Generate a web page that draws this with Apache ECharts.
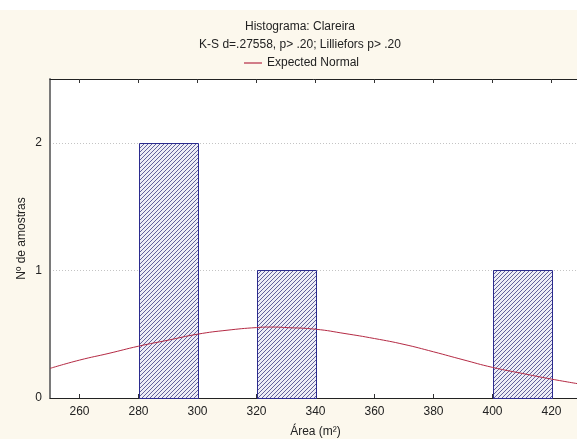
<!DOCTYPE html>
<html>
<head>
<meta charset="utf-8">
<script src="https://cdn.jsdelivr.net/npm/echarts@6/dist/echarts.min.js"></script>
<style>
html,body{margin:0;padding:0;background:#fcf8ed;}
#c{width:577px;height:439px;}
</style>
</head>
<body>
<div id="c"></div>
<script>
// Histogram bins (Área, m²) and counts
const binLeft = [280, 320, 400];
const binRight = [300, 340, 420];
const counts = [2, 1, 1];
// Expected normal curve
const normalX = [250, 260, 270, 280, 290, 300, 310, 320, 325, 330, 340, 350, 360, 370, 380, 390, 400, 410, 420, 430];
const normalY = [0.232, 0.297, 0.35, 0.406, 0.453, 0.50, 0.531, 0.552, 0.556, 0.552, 0.539, 0.505, 0.466, 0.42, 0.362, 0.30, 0.24, 0.193, 0.148, 0.108];
const xTicks = [260, 280, 300, 320, 340, 360, 380, 400, 420];
const yTicks = [0, 1, 2];

const tile = document.createElement('canvas');
tile.width = 4; tile.height = 4;
const g = tile.getContext('2d');
g.fillStyle = '#ededf6';
g.fillRect(0, 0, 4, 4);
g.strokeStyle = '#3e3e84';
g.lineWidth = 0.8;
g.beginPath();
g.moveTo(-1, 5); g.lineTo(5, -1);
g.moveTo(-1, 1); g.lineTo(1, -1);
g.moveTo(3, 5); g.lineTo(5, 3);
g.stroke();
const hatch = {image: tile, repeat: 'repeat'};

const chart = echarts.init(document.getElementById('c'), null, {renderer: 'canvas'});
const font = 'Liberation Sans, Arial, sans-serif';
chart.setOption({
  backgroundColor: '#fcf8ed',
  animation: false,
  textStyle: {fontFamily: font},
  graphic: [{type: 'rect', shape: {x: 0, y: 0, width: 577, height: 10}, style: {fill: '#ffffff'}, z: -10}],
  title: [
    {text: 'Histograma: Clareira', left: 300, top: 21, textAlign: 'center', padding: 0,
     textStyle: {fontSize: 12, fontWeight: 'normal', color: '#222', fontFamily: font}},
    {text: 'K-S d=.27558, p> .20; Lilliefors p> .20', left: 300, top: 39, textAlign: 'center', padding: 0,
     textStyle: {fontSize: 12, fontWeight: 'normal', color: '#222', fontFamily: font}}
  ],
  legend: {
    data: [{name: 'Expected Normal', icon: 'rect'}],
    left: 244, top: 57, padding: 0,
    itemWidth: 18, itemHeight: 1.2, itemGap: 5,
    textStyle: {fontSize: 12, color: '#222', fontFamily: font}
  },
  grid: {left: 50, right: -4, top: 79, bottom: 41, show: true, backgroundColor: '#ffffff', borderWidth: 0,
         containLabel: false, outerBoundsMode: 'none'},
  xAxis: [{
    type: 'value', min: 250, max: 430, position: 'bottom',
    name: 'Área (m²)', nameLocation: 'middle', nameGap: 28,
    nameTextStyle: {fontSize: 12, color: '#222', fontFamily: font},
    axisLine: {lineStyle: {color: '#222', width: 1}},
    axisTick: {inside: true, length: 4, customValues: xTicks, lineStyle: {color: '#333'}},
    axisLabel: {customValues: xTicks, fontSize: 12, color: '#222', margin: 8, fontFamily: font},
    splitLine: {show: false}
  }, {
    type: 'value', min: 250, max: 430, position: 'top',
    axisLine: {lineStyle: {color: '#222', width: 1}},
    axisTick: {inside: true, length: 4, customValues: xTicks, lineStyle: {color: '#333'}},
    axisLabel: {show: false},
    splitLine: {show: false}
  }],
  yAxis: {
    type: 'value', min: 0, max: 2.5, interval: 1,
    name: 'Nº de amostras', nameLocation: 'middle', nameGap: 22,
    nameMoveOverlap: false,
    nameTextStyle: {fontSize: 12, color: '#222', fontFamily: font},
    axisLine: {show: true, lineStyle: {color: '#7a7a7a', width: 2}},
    axisTick: {show: false},
    axisLabel: {fontSize: 12, color: '#222', margin: 8, fontFamily: font,
      formatter: v => (yTicks.indexOf(v) >= 0 ? String(v) : '')},
    splitLine: {show: true, lineStyle: {color: '#c4c4c4', type: [1, 2], width: 1}}
  },
  series: [{
    type: 'custom',
    name: 'bins',
    xAxisIndex: 0,
    data: binLeft.map((l, i) => [l, binRight[i], counts[i]]),
    encode: {x: [0, 1], y: 2},
    renderItem: function (params, api) {
      const p0 = api.coord([api.value(0), 0]);
      const p1 = api.coord([api.value(1), api.value(2)]);
      return {
        type: 'rect',
        shape: {x: Math.round(p0[0]) + 0.5, y: Math.round(p1[1]) + 0.5, width: Math.round(p1[0] - p0[0]), height: Math.round(p0[1] - p1[1])},
        style: {fill: hatch, stroke: '#2b2b8e', lineWidth: 1}
      };
    },
    z: 2
  }, {
    type: 'line',
    name: 'Expected Normal',
    xAxisIndex: 0,
    data: normalX.map((x, i) => [x, normalY[i]]),
    smooth: true,
    symbol: 'none',
    lineStyle: {color: '#b42a44', width: 1},
    itemStyle: {color: '#b42a44'},
    z: 3
  }]
});
</script>
</body>
</html>
